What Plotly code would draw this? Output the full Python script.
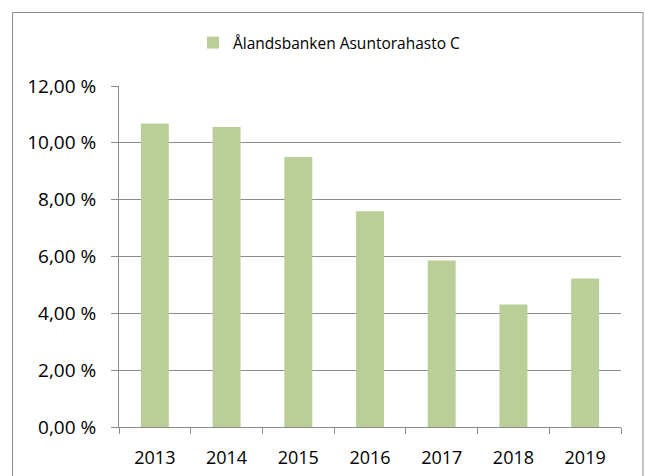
import plotly.graph_objects as go

years = ["2013", "2014", "2015", "2016", "2017", "2018", "2019"]
returns = [10.68, 10.56, 9.50, 7.59, 5.86, 4.31, 5.23]
series_name = "Ålandsbanken Asuntorahasto C"
y_ticks = [0, 2, 4, 6, 8, 10, 12]
y_ticktext = [f"{v:.2f}".replace(".", ",") + " %" for v in y_ticks]

W, H = 645, 476
L, R, T, B = 119, 24, 86, 49
pw, ph = W - L - R, H - T - B

def px_x(x):
    return (x - L) / pw

def px_y(y):
    return (H - B - y) / ph

fig = go.Figure()
fig.add_trace(go.Bar(
    x=years, y=returns, name=series_name,
    marker=dict(color="#BACF97", line=dict(width=0)),
    showlegend=True,
))

grid = "#8C8C8C"
fig.update_layout(
    width=W, height=H,
    margin=dict(l=L, r=R, t=T, b=B, pad=0, autoexpand=False),
    paper_bgcolor="white", plot_bgcolor="white",
    font=dict(family="Open Sans", size=18, color="black"),
    bargap=0.61,
    showlegend=True,
    legend=dict(
        orientation="h", x=px_x(193), y=px_y(43), xanchor="left", yanchor="middle",
        font=dict(size=15.5, color="black"), bgcolor="rgba(0,0,0,0)",
        itemwidth=30, traceorder="normal",
    ),
    xaxis=dict(
        type="category", showline=True, linecolor=grid, linewidth=1,
        ticks="outside", tickson="boundaries", ticklen=6, tickcolor=grid, tickwidth=1,
        showgrid=False, ticklabelstandoff=14, automargin=False,
    ),
    yaxis=dict(
        range=[0, 12], tickmode="array", tickvals=y_ticks, ticktext=y_ticktext,
        tickfont=dict(size=19),
        showline=True, linecolor=grid, linewidth=1,
        ticks="outside", ticklen=7, tickcolor=grid, tickwidth=1,
        showgrid=True, gridcolor=grid, gridwidth=1, zeroline=False,
        ticklabelstandoff=11, automargin=False,
    ),
    shapes=[dict(
        type="rect", xref="paper", yref="paper",
        x0=px_x(12.5), x1=px_x(643), y0=px_y(480), y1=px_y(12.5),
        line=dict(color="#8C8C8C", width=1), fillcolor="rgba(0,0,0,0)", layer="above",
    )],
)

fig.write_html("out.html", config={"displayModeBar": False})
with open("out.html", encoding="utf-8") as f:
    html = f.read()
html = html.replace("<head>", "<head><style>html,body{margin:0;padding:0;overflow:hidden;}</style>", 1)
with open("out.html", "w", encoding="utf-8") as f:
    f.write(html)
